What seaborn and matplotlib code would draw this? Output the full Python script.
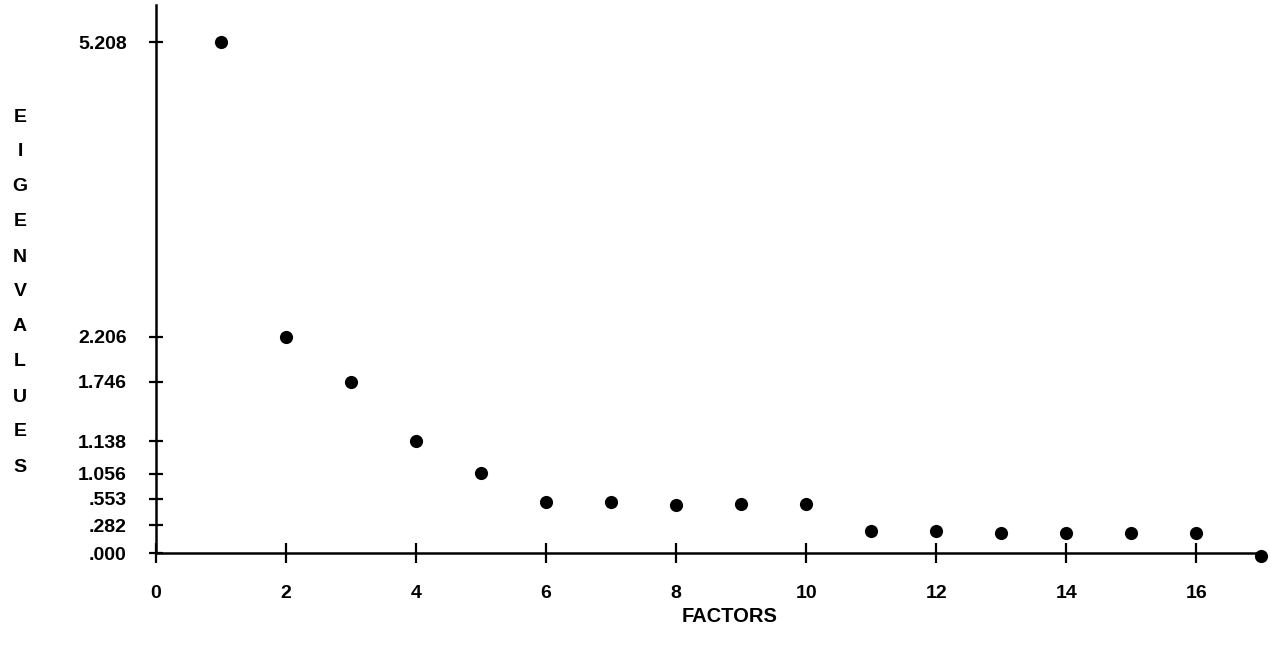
import matplotlib
matplotlib.use("Agg")
import matplotlib.pyplot as plt
import seaborn as sns
import pandas as pd

factors = list(range(1, 18))
eigenvalues = [5.208, 2.206, 1.746, 1.138, 0.82, 0.52, 0.52, 0.49, 0.50, 0.50,
               0.22, 0.22, 0.20, 0.20, 0.20, 0.20, -0.03]
ytick_pos = [5.208, 2.206, 1.746, 1.138, 0.81, 0.553, 0.282, 0.0]
ytick_labels = ["5.208", "2.206", "1.746", "1.138", "1.056", ".553", ".282", ".000"]
xtick_pos = [0, 2, 4, 6, 8, 10, 12, 14, 16]
xtick_labels = ["0", "2", "4", "6", "8", "10", "12", "14", "16"]
x_title = "FACTORS"
y_title = "EIGENVALUES"

sns.set_style("white")
plt.rcParams["font.family"] = ["Liberation Sans", "DejaVu Sans"]
plt.rcParams["text.color"] = "black"
plt.rcParams["xtick.color"] = "black"
plt.rcParams["ytick.color"] = "black"

df = pd.DataFrame({"factor": factors, "eigenvalue": eigenvalues})

fig = plt.figure(figsize=(12.83, 6.57), dpi=100)
ax = fig.add_axes([156/1283, 1-553/657, (1256-156)/1283, (553-5)/657])
sns.scatterplot(data=df, x="factor", y="eigenvalue", ax=ax, color="black",
                s=90, edgecolor="black", linewidth=0, clip_on=False, legend=False)
ax.set_xlim(0, 16.92)
ax.set_ylim(0, 5.59)
for side in ["top", "right"]:
    ax.spines[side].set_visible(False)
for side in ["left", "bottom"]:
    ax.spines[side].set_linewidth(1.8)
    ax.spines[side].set_color("black")
ax.set_xticks(xtick_pos)
ax.set_xticklabels(xtick_labels, fontsize=14, fontweight="bold", color="black")
ax.set_yticks(ytick_pos)
ax.set_yticklabels(ytick_labels, fontsize=14, fontweight="bold", color="black")
ax.tick_params(axis="x", bottom=True, direction="inout", length=14, width=1.6,
               pad=16, color="black", labelcolor="black")
ax.tick_params(axis="y", left=True, direction="inout", length=10, width=1.6,
               pad=16, color="black", labelcolor="black")
ax.set_xlabel("")
ax.set_ylabel("")

fig.text(730/1283, 1-617/657, x_title, ha="center", va="center",
         fontsize=14.5, fontweight="bold", color="black")
y0, dy = 117, 35
for i, ch in enumerate(y_title):
    fig.text(20/1283, 1-(y0 + i*dy)/657, ch, ha="center", va="center",
             fontsize=14, fontweight="bold", color="black")

fig.savefig("out.png", dpi=100)
